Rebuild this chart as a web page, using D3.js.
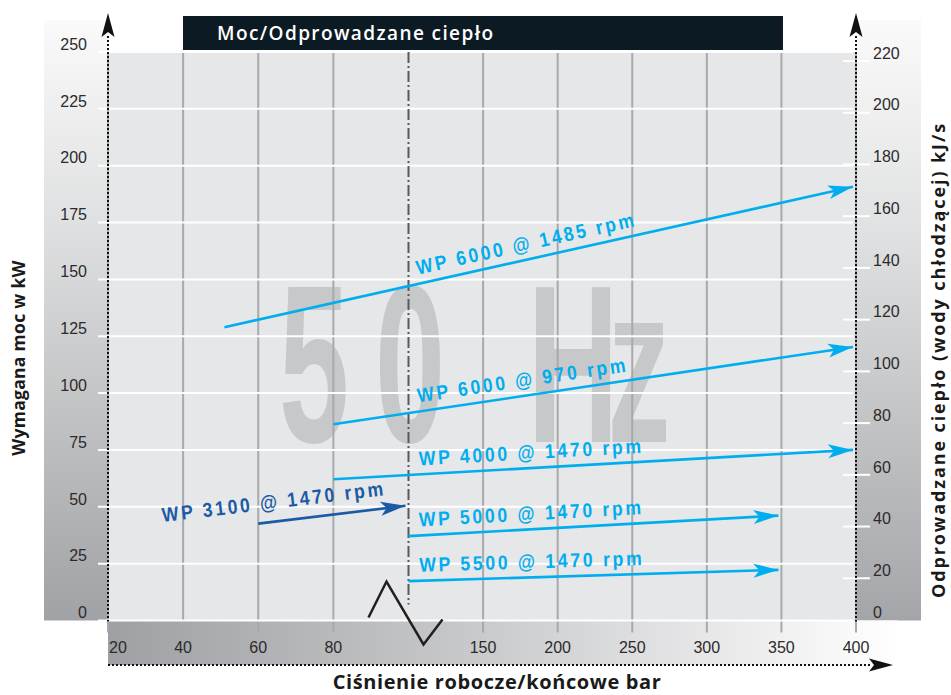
<!DOCTYPE html>
<html><head><meta charset="utf-8">
<script src="https://cdn.jsdelivr.net/npm/d3@7"></script>
<style>body{margin:0;background:#fff}svg{display:block}</style>
</head><body><svg id="c" width="951" height="695"></svg>
<script>
// ---------- data ----------
const leftTicks = [0, 25, 50, 75, 100, 125, 150, 175, 200, 225, 250];
const rightTicks = [0, 20, 40, 60, 80, 100, 120, 140, 160, 180, 200, 220];
const xTickLabels = [20, 40, 60, 80, 150, 200, 250, 300, 350, 400];
const breakPressure = 100;

const seriesNames = ["WP 6000 @ 1485 rpm", "WP 6000 @ 970 rpm", "WP 4000 @ 1470 rpm",
                     "WP 5000 @ 1470 rpm", "WP 5500 @ 1470 rpm", "WP 3100 @ 1470 rpm"];
const startPressure = [51, 80, 80, 100, 100, 60];
const startPower    = [129, 86.3, 62.1, 37.1, 17.3, 42.6];
const endPressure   = [400, 400, 400, 350, 350, 100];
const endPower      = [191, 120.5, 75.1, 46.2, 22.3, 50.6];
const labelPressure = [107.5, 107.5, 107.5, 107.5, 107.5, 35];

const chartTitle = "Moc/Odprowadzane ciepło";
const leftTitle = "Wymagana moc w kW";
const rightTitle = "Odprowadzane ciepło (wody chłodzącej) kJ/s";
const bottomTitle = "Ciśnienie robocze/końcowe bar";
const watermark = ["5", "0", "H", "z"];

// ---------- setup ----------
const svg = d3.select("#c");
const defs = svg.append("defs");
const x = d3.scaleLinear().domain([20, breakPressure, 400]).range([108, 408.5, 856]);
const yL = d3.scaleLinear().domain([0, 250]).range([620.5, 52]);
const yR = d3.scaleLinear().domain([0, 220]).range([630, 61]);
const color = d3.scaleOrdinal().domain(seriesNames)
  .range(["#00aeef", "#00aeef", "#00aeef", "#00aeef", "#00aeef", "#1b5aa5"]);

function grad(id, x1, y1, x2, y2, stops) {
  const g = defs.append("linearGradient").attr("id", id)
    .attr("x1", x1).attr("y1", y1).attr("x2", x2).attr("y2", y2);
  stops.forEach(s => g.append("stop").attr("offset", s[0]).attr("stop-color", s[1]));
}
grad("gL", 0, 0, 0, 1, [[0, "#fafafa"], [0.35, "#dedfe0"], [1, "#a1a2a5"]]);
grad("gR", 0, 0, 0, 1, [[0, "#fafafa"], [0.35, "#e0e1e2"], [1, "#a4a5a8"]]);
grad("gB", 0, 0, 1, 0, [[0, "#9ea0a3"], [0.45, "#c7c8ca"], [1, "#ffffff"]]);

const x0 = x.range()[0], x1 = x.range()[2];
const yTop = yL(250), yBot = yL(0);

// panels
svg.append("rect").attr("x", 44).attr("y", 20).attr("width", x0 - 44).attr("height", yBot - 20).attr("fill", "url(#gL)");
svg.append("rect").attr("x", x1).attr("y", 20).attr("width", 65).attr("height", yBot - 20).attr("fill", "url(#gR)");
svg.append("rect").attr("x", x0).attr("y", yBot).attr("width", 790).attr("height", 44.5).attr("fill", "url(#gB)");
svg.append("rect").attr("x", x0).attr("y", yTop).attr("width", x1 - x0).attr("height", yBot - yTop).attr("fill", "#e6e7e8");

// watermark "50 Hz"
const wmX = [314, 410, 573, 639];
svg.append("g").selectAll("text").data(watermark).join("text")
  .attr("transform", (d, i) => `translate(${wmX[i]},442) scale(0.56,1)`)
  .attr("text-anchor", "middle")
  .style("font-family", "'Liberation Sans', Arial, sans-serif")
  .style("font-weight", "bold").style("font-size", "225px")
  .attr("fill", "#c7c8c9").text(d => d);

// vertical gridlines
svg.append("g").selectAll("line").data(xTickLabels).join("line")
  .attr("x1", d => x(d)).attr("x2", d => x(d)).attr("y1", yTop).attr("y2", yBot + 12)
  .attr("stroke", "#a7a9ac").attr("stroke-width", 2);

// horizontal gridlines (left ticks)
svg.append("g").selectAll("line").data(leftTicks).join("line")
  .attr("x1", 98).attr("x2", 853).attr("y1", d => yL(d)).attr("y2", d => yL(d))
  .attr("stroke", "#ffffff").attr("stroke-width", 2);

// right tick marks
svg.append("g").selectAll("line").data(rightTicks.filter(d => yR(d) <= yBot)).join("line")
  .attr("x1", 843).attr("x2", 870).attr("y1", d => yR(d)).attr("y2", d => yR(d))
  .attr("stroke", "#ffffff").attr("stroke-width", 2);

// break line
const xb = x(breakPressure);
svg.append("line").attr("x1", xb).attr("x2", xb).attr("y1", yTop).attr("y2", yBot - 16)
  .attr("stroke", "#58595b").attr("stroke-width", 2).attr("stroke-dasharray", "11,3,2,3");

// zigzag break symbol
svg.append("path")
  .attr("d", d3.line()([[xb - 40, yBot - 3], [xb - 22, yBot - 39], [xb + 15, yBot + 24], [xb + 34, yBot - 1]]))
  .attr("fill", "none").attr("stroke", "#231f20").attr("stroke-width", 2.5);

// dotted axes
const axisStyle = s => s.attr("stroke", "#111").attr("stroke-width", 2).attr("stroke-dasharray", "2,2");
axisStyle(svg.append("line").attr("x1", x0).attr("x2", x0).attr("y1", 36).attr("y2", yBot + 1));
axisStyle(svg.append("line").attr("x1", x1).attr("x2", x1).attr("y1", 36).attr("y2", yBot + 1));
axisStyle(svg.append("line").attr("x1", x0).attr("x2", 872).attr("y1", 665).attr("y2", 665));
const head = "M0,0 L-6.5,24 L0,19 L6.5,24 Z";
svg.append("path").attr("d", head).attr("transform", `translate(${x0},13)`).attr("fill", "#111");
svg.append("path").attr("d", head).attr("transform", `translate(${x1},13)`).attr("fill", "#111");
svg.append("path").attr("d", head).attr("transform", `translate(893,665) rotate(90)`).attr("fill", "#111");

// tick labels
const tickFont = s => s.style("font-family", "'Liberation Sans', Arial, sans-serif").style("font-size", "16px").attr("fill", "#2b2b2b");
tickFont(svg.append("g").selectAll("text").data(leftTicks).join("text")
  .attr("x", 87).attr("y", d => yL(d) - 8).attr("dy", "0.36em").attr("text-anchor", "end").text(d => d));
tickFont(svg.append("g").selectAll("text").data(rightTicks).join("text")
  .attr("x", 873).attr("y", d => Math.min(yR(d) - 8, 612)).attr("dy", "0.36em").attr("text-anchor", "start").text(d => d));
tickFont(svg.append("g").selectAll("text").data(xTickLabels).join("text")
  .attr("x", (d, i) => i === 0 ? x(d) + 1 : x(d)).attr("y", 647).attr("dy", "0.36em")
  .attr("text-anchor", (d, i) => i === 0 ? "start" : "middle").text(d => d));

// series arrows
const markers = defs.selectAll("marker").data(seriesNames).join("marker")
  .attr("id", (d, i) => "m" + i).attr("markerUnits", "userSpaceOnUse")
  .attr("viewBox", "-26 -8 28 16").attr("refX", 0).attr("refY", 0)
  .attr("markerWidth", 28).attr("markerHeight", 16).attr("orient", "auto");
markers.append("path").attr("d", "M0,0 L-25,-7 L-19,0 L-25,7 Z").attr("fill", d => color(d));

const g = svg.append("g");
seriesNames.forEach((name, i) => {
  const p0 = [x(startPressure[i]), yL(startPower[i])];
  const p1 = [x(endPressure[i]), yL(endPower[i])];
  const slope = (p1[1] - p0[1]) / (p1[0] - p0[0]);
  g.append("line").attr("x1", p0[0]).attr("y1", p0[1]).attr("x2", p1[0] - 3).attr("y2", p1[1] - slope * 3)
    .attr("stroke", color(name)).attr("stroke-width", 2.6).attr("marker-end", `url(#m${i})`);
  const angle = Math.atan(slope) * 180 / Math.PI;
  const lx = x(labelPressure[i]);
  const ly = p0[1] + slope * (lx - p0[0]);
  const gap = name.indexOf("3100") >= 0 ? 13 : 9;
  g.append("text")
    .attr("transform", `translate(${lx},${ly}) rotate(${angle}) translate(0,${-gap}) scale(0.88,1)`)
    .style("font-family", "'Liberation Sans', Arial, sans-serif").style("font-weight", "bold")
    .style("font-size", "20px").style("letter-spacing", "3.1px")
    .attr("fill", color(name)).text(name);
});

// title bar
svg.append("rect").attr("x", 183).attr("y", 16).attr("width", 600).attr("height", 34).attr("fill", "#0c1a24");
svg.append("text").attr("x", 217).attr("y", 39.5).text(chartTitle)
  .style("font-family", "'Open Sans', sans-serif").style("font-weight", 600).style("font-size", "19px")
  .style("letter-spacing", "1.4px").attr("fill", "#fff");

// axis titles
const titleFont = (s, size, ls) => s.style("font-family", "'Open Sans', sans-serif").style("font-weight", "bold")
  .style("font-size", size).style("letter-spacing", ls).attr("fill", "#1a1a1a").attr("text-anchor", "middle");
titleFont(svg.append("text").attr("transform", "translate(25,358) rotate(-90)").text(leftTitle), "17.5px", "0.3px");
titleFont(svg.append("text").attr("transform", "translate(945,360) rotate(-90)").text(rightTitle), "18px", "1.9px");
titleFont(svg.append("text").attr("x", 497).attr("y", 689).text(bottomTitle), "20px", "0.6px");
</script></body></html>
